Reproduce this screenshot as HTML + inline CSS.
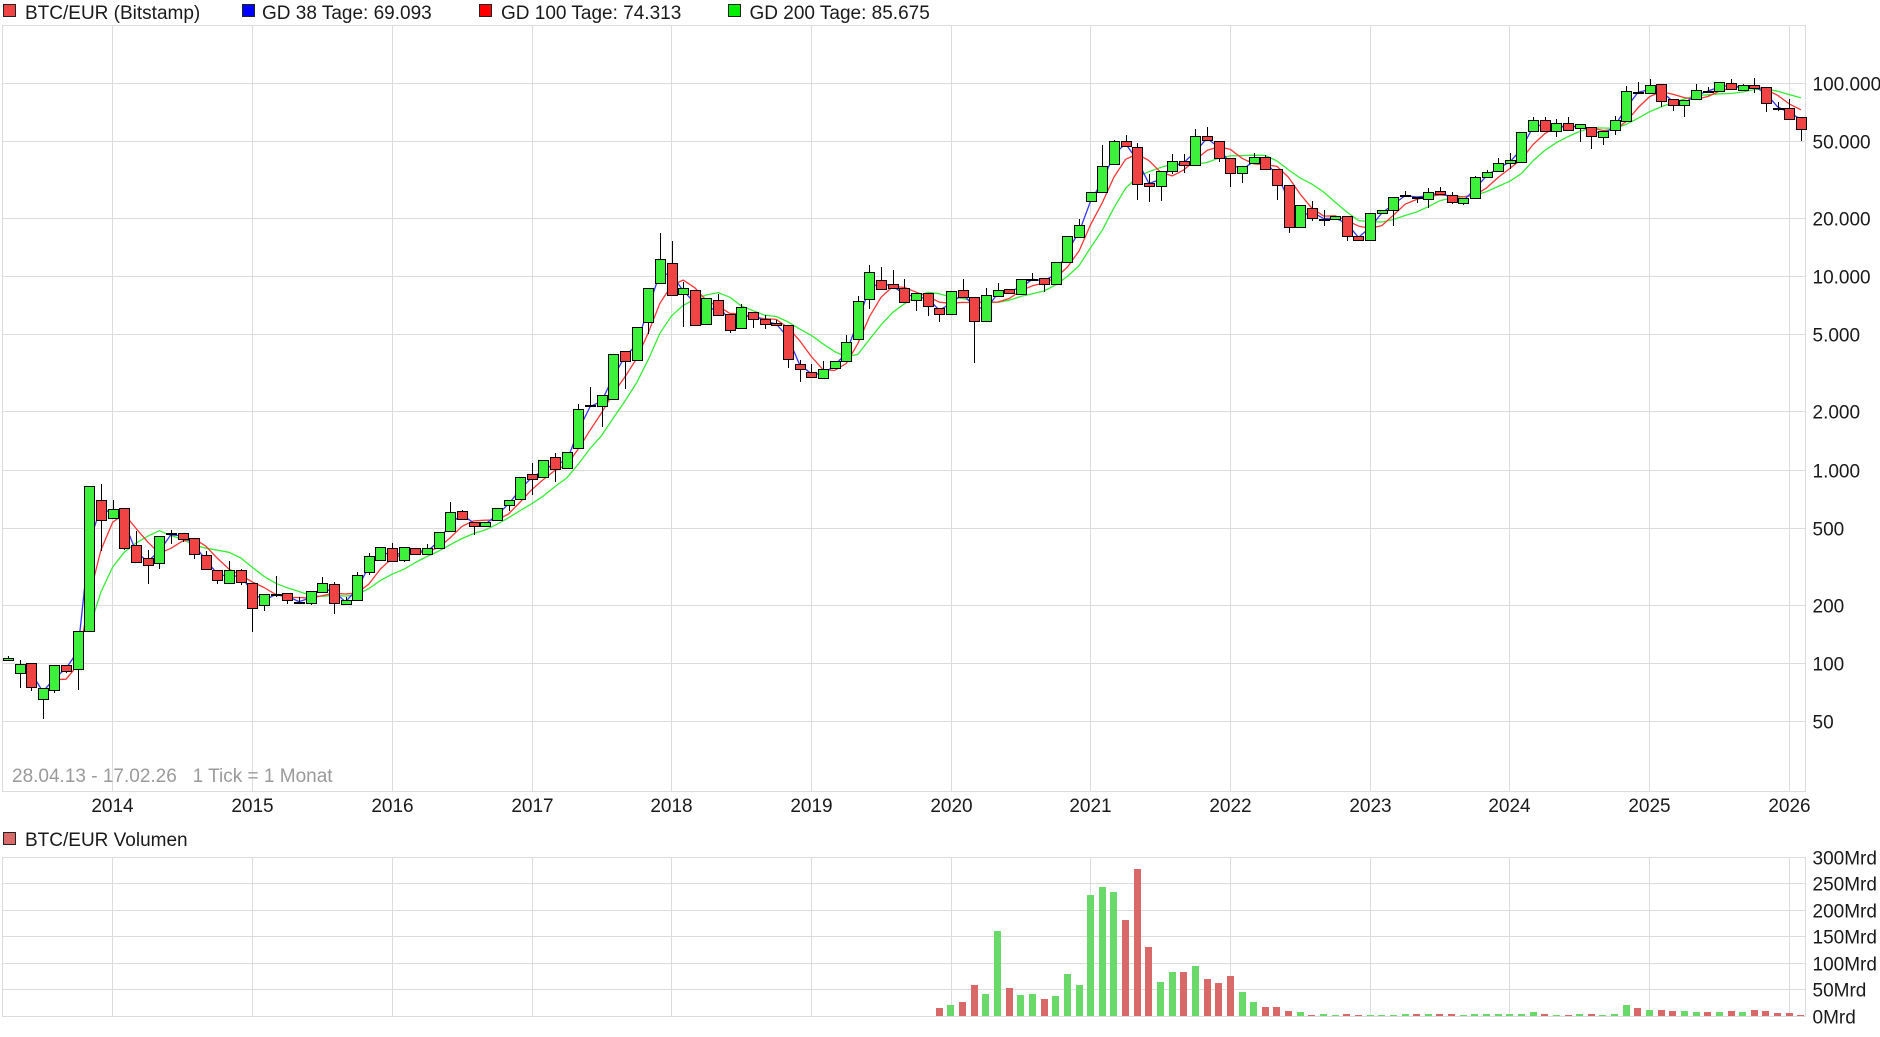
<!DOCTYPE html>
<html>
<head>
<meta charset="utf-8">
<style>
html,body{margin:0;padding:0;background:#fff;}
svg{display:block;}
text{font-family:"Liberation Sans",Arial,sans-serif;font-size:19px;fill:#1a1a1a;}
</style>
</head>
<body>
<svg id="c" xmlns="http://www.w3.org/2000/svg" width="1880" height="1037" viewBox="0 0 1880 1037">
<rect width="1880" height="1037" fill="#fff"/>
<g stroke="#dcdcdc" stroke-width="1" fill="none">
  <rect x="2.5" y="25.5" width="1803" height="766"/>
  <line x1="2" y1="83.5" x2="1806" y2="83.5"/>
  <line x1="2" y1="141.5" x2="1806" y2="141.5"/>
  <line x1="2" y1="218.5" x2="1806" y2="218.5"/>
  <line x1="2" y1="276.5" x2="1806" y2="276.5"/>
  <line x1="2" y1="334.5" x2="1806" y2="334.5"/>
  <line x1="2" y1="411.5" x2="1806" y2="411.5"/>
  <line x1="2" y1="470.5" x2="1806" y2="470.5"/>
  <line x1="2" y1="528.5" x2="1806" y2="528.5"/>
  <line x1="2" y1="605.5" x2="1806" y2="605.5"/>
  <line x1="2" y1="663.5" x2="1806" y2="663.5"/>
  <line x1="2" y1="721.5" x2="1806" y2="721.5"/>
  <g id="vgrid"></g>
  <rect x="2.5" y="857.5" width="1803" height="159"/>
  <line x1="2" y1="883.5" x2="1806" y2="883.5"/>
  <line x1="2" y1="910.5" x2="1806" y2="910.5"/>
  <line x1="2" y1="936.5" x2="1806" y2="936.5"/>
  <line x1="2" y1="963.5" x2="1806" y2="963.5"/>
  <line x1="2" y1="989.5" x2="1806" y2="989.5"/>
</g>

<!-- Legend -->
<rect x="3.5" y="4.5" width="12" height="12" fill="#ee4444" stroke="#222"/>
<text x="25" y="19">BTC/EUR (Bitstamp)</text>
<rect x="242.5" y="4.5" width="12" height="12" fill="#0000ff" stroke="#222"/>
<text x="262" y="19">GD 38 Tage: 69.093</text>
<rect x="479.5" y="4.5" width="12" height="12" fill="#ff0000" stroke="#222"/>
<text x="501" y="19">GD 100 Tage: 74.313</text>
<rect x="728.5" y="4.5" width="12" height="12" fill="#00ee00" stroke="#222"/>
<text x="749.5" y="19">GD 200 Tage: 85.675</text>

<!-- Right axis labels -->
<g>
<text x="1812.5" y="90.5">100.000</text>
<text x="1812.5" y="148.5">50.000</text>
<text x="1812.5" y="225.5">20.000</text>
<text x="1812.5" y="283.5">10.000</text>
<text x="1812.5" y="341.5">5.000</text>
<text x="1812.5" y="418.5">2.000</text>
<text x="1812.5" y="477.5">1.000</text>
<text x="1812.5" y="535.5">500</text>
<text x="1812.5" y="612.5">200</text>
<text x="1812.5" y="670.5">100</text>
<text x="1812.5" y="728.5">50</text>
</g>

<text x="12" y="782" style="fill:#9a9a9a">28.04.13 - 17.02.26 &#160; 1 Tick = 1 Monat</text>

<!-- Year labels -->
<g text-anchor="middle">
<text x="112.5" y="812">2014</text>
<text x="252.5" y="812">2015</text>
<text x="392.5" y="812">2016</text>
<text x="532.5" y="812">2017</text>
<text x="671.5" y="812">2018</text>
<text x="811.5" y="812">2019</text>
<text x="951.5" y="812">2020</text>
<text x="1090.5" y="812">2021</text>
<text x="1230.5" y="812">2022</text>
<text x="1370.5" y="812">2023</text>
<text x="1509.5" y="812">2024</text>
<text x="1649.5" y="812">2025</text>
<text x="1789.5" y="812">2026</text>
</g>

<rect x="3.5" y="832.5" width="12" height="12" fill="#d96a6a" stroke="#222"/>
<text x="25" y="846">BTC/EUR Volumen</text>

<g>
<text x="1812.5" y="864.5">300Mrd</text>
<text x="1812.5" y="890.5">250Mrd</text>
<text x="1812.5" y="917.5">200Mrd</text>
<text x="1812.5" y="943.5">150Mrd</text>
<text x="1812.5" y="970.5">100Mrd</text>
<text x="1812.5" y="996.5">50Mrd</text>
<text x="1812.5" y="1023.5">0Mrd</text>
</g>

<g id="ma"></g>
<g id="cand"></g>
<g id="vol"></g>
</svg>
<script>
(function(){
const NS='http://www.w3.org/2000/svg';
function el(n,a,p){const e=document.createElementNS(NS,n);for(const k in a)e.setAttribute(k,a[k]);p.appendChild(e);return e;}
const X=i=>7.9+11.643*i;
const Y=v=>83.5+193.3*(5-Math.log10(v));
const P=y=>Math.pow(10,5-(y-83.5)/193.3);
const D=[
[1,658.3,660.3,655.7,0],[1,664,673.3,660,687.7],[0,663.3,687.3,0,690.7],[1,688.3,699,0,719.3],[1,665.3,690,0,693.3],
[0,665.3,671.3,0,673.3],[1,631.3,669.3,0,689.7],[1,486.3,631.3,0,0],[0,500.3,520.3,484,550.7],[1,509.3,518.3,500,0],
[0,508.3,548.3,0,550],[0,545.3,562.3,531,0],[0,558.3,565.3,550,583.7],[1,536.3,563.3,0,569.3],[1,533.3,534.3,530,544],
[0,533.3,539.3,0,542],[0,538.3,554.3,0,559.3],[0,555.3,569.3,551,0],[0,570.3,580.3,0,583.7],[1,570.3,583.3,561,0],
[0,570.3,582.3,568.7,585.3],[0,583.3,608.3,0,631.7],[1,594.3,605.3,0,610.7],[0,593.7,594.7,576,596.7],[0,593.3,600,0,604.3],
[1,601.7,602.7,596.7,604.3],[1,591.3,603.3,0,605],[1,583.3,592.3,576.7,0],[0,584.3,603.3,582.3,613.7],[1,600,604.3,596.7,0],
[1,575.3,600.3,572.3,0],[1,556.3,572.3,552.7,575.3],[1,547.3,560,0,0],[0,547.7,561,543.3,0],[1,546.7,560,0,562],
[0,547.7,554.3,0,0],[1,548.3,554.3,544.3,0],[1,532.3,548.3,0,0],[1,512.3,531,502,0],[0,511,519,510,0],
[0,521.7,526,0,535],[1,521.7,526,0,0],[1,508.3,520,0,0],[1,500.3,505,0,510.7],[1,477.3,499.3,0,0],
[0,474.3,479.3,463.3,495],[1,460.3,477.3,0,0],[0,457.3,469.3,453.3,481.7],[1,452.3,468.3,0,0],[1,409.3,448.3,404.3,0],
[1,404.5,405.5,387,0],[1,395.3,406.3,0,426.7],[1,354.3,399,0,0],[0,351.3,361,0,389.3],[1,327.3,360.3,0,0],
[1,288.3,322.3,0,334.3],[1,259,283,233,0],[0,263.3,295.3,241,0],[1,288.3,294,282.3,326.7],[0,290.3,325,0,0],
[1,298.3,324.3,0,0],[0,299.7,315,294.3,0],[0,314.3,330.3,0,333],[1,306.7,328.3,304,0],[0,311.7,319.3,0,328.3],
[0,319.3,324.3,315,329.3],[0,322.7,325.3,319.7,0],[0,325.3,359.3,0,368.3],[0,364.3,369.3,360,382.3],[0,372.3,377.3,364.3,0],
[1,368.7,378.3,361,0],[1,361.3,368.3,0,369.3],[1,341.7,361.3,335,0],[1,301.3,339.3,296,0],[1,272.3,299,265,309.3],
[0,280,289.3,267.3,0],[0,284.3,288.3,270,0],[0,288.3,302.3,279.3,0],[1,293.3,300.3,0,310.7],[0,293.3,306,0,315.7],
[0,308.3,314.3,0,322.3],[1,291.3,314.3,0,0],[0,290.3,297.3,279,0],[0,297.3,321.3,0,362.7],[1,295.3,321.3,287.7,0],
[1,290.3,296.3,283,0],[0,289.3,293.3,0,0],[1,279.3,294.3,0,0],[1,278.5,279.5,273.3,0],[0,278.3,284.3,0,291.7],
[1,262.3,284.3,0,0],[1,236.3,262.3,0,0],[1,225.3,236.7,219.3,0],[1,191.7,200.7,0,0],[1,166,192.3,145,0],
[1,141.3,164.3,140,0],[0,141.3,146,134.7,0],[0,146.7,184.3,143.3,200],[0,183.3,186,174.3,201.7],[1,171,186.3,0,200.7],
[1,160.7,171,154,174.3],[0,160.7,165,154.3,172.7],[1,136,165,129.3,0],[0,136,140,126.7,0],[0,141.3,157.7,0,161.7],
[0,158.3,173,0,186.7],[1,166,173,0,182.7],[1,157.3,163.3,153.3,0],[0,157.3,168.7,155,0],[0,168.7,185,0,200],
[0,185.3,227.3,0,232.7],[1,205.3,227.3,0,0],[0,207.7,218.3,201,221],[1,218.5,219.5,210,226],[1,216.3,219.3,0,0],
[0,215.7,236.3,0,241.3],[0,235.7,240.3,0,0],[1,213.3,240.3,0,0],[1,210.3,213.3,0,0],[1,196.7,210.3,0,225.7],
[1,194.5,195.5,190.7,0],[0,197,198,0,203.3],[1,191.7,199.3,188,207.7],[0,190.7,194.3,187,0],[0,195.3,202.3,192.3,204.3],
[1,198.3,203.3,0,205],[1,177.3,198.3,176,0],[1,172.3,177.3,170,0],[1,163.3,171.3,158.3,0],[1,160.3,163.3,153.3,169.3],
[1,131.7,162.3,0,0],[1,119.7,131,117.3,0],[0,119.7,131,117.3,0],[1,123.3,131.3,119.3,136.7],[0,123.3,130.3,117.3,0],
[1,124.3,128.3,0,141.7],[0,127.3,136,0,148.7],[1,131.3,137.3,0,144.7],[1,120.3,130.3,116.3,135.3],[1,91.3,121.3,86,0],
[0,91.5,92.5,81.7,0],[1,85.3,92.7,79.3,0],[0,84.3,101.3,0,107],[0,98.7,105.3,0,110.7],[1,99.7,105.3,0,116.7],
[1,90.3,98.7,84.3,0],[0,90.5,91.5,86.7,0],[1,81.7,91,0,0],[0,82.7,89,79.3,0],[1,85.3,90.3,84,0],
[0,85.3,88,78,93.3],[0,87.3,103.3,0,111.7],[0,107.5,108.5,101.7,110.7],[0,108.3,119.3,98.7,0],[0,117.3,129.3,0,140.7]
];
const V=[1007.7,1005,1002,985,994,931,988,995,994,999,
996,974,985,895,887,892,920,869,947,982,
972,972,966,979,983,976,992,1002,1007,1007,
1011,1012,1015,1014,1015,1014,1015,1015,1015,1015,
1014,1014,1014,1014,1014,1015,1014,1014,1014,1014,
1014,1012,1014,1015,1015,1014,1014,1015,1014,1005,
1008,1010,1010,1010.7,1011,1012,1012.3,1012,1011,1012,
1010,1011,1013,1013,1015];

// vertical gridlines
const vg=document.getElementById('vgrid');
const yx=[112.5,252.5,392.5,532.5,671.5,811.5,951.5,1090.5,1230.5,1370.5,1509.5,1649.5,1789.5];
yx.forEach(x=>{
  el('line',{x1:x,y1:25,x2:x,y2:791},vg);
  el('line',{x1:x,y1:857,x2:x,y2:1016},vg);
});

// Moving averages (approximate daily path)
const ML=[31,28,31,30,31,30,31,31,30,31,30,31];
const days=[],ends=[];
D.forEach((d,i)=>{
  const o=P(d[0]?d[2]:d[1]), c=P(d[0]?d[1]:d[2]);
  const n=i==0?3:(i==D.length-1?17:ML[(3+i)%12]);
  for(let k=1;k<=n;k++)days.push(o+(c-o)*k/n);
  ends.push(days.length);
});
const gMA=document.getElementById('ma');
function ma(N,col){
  const pts=[];
  ends.forEach((e,i)=>{
    if(e>=N){let s=0;for(let k=e-N;k<e;k++)s+=days[k];
      pts.push(X(i).toFixed(1)+','+Y(s/N).toFixed(1));}
  });
  el('polyline',{points:pts.join(' '),fill:'none',stroke:col,'stroke-width':1.3,'stroke-linejoin':'round'},gMA);
}
ma(200,'#33ee33');
ma(100,'#ff3333');
ma(38,'#3333ff');

// Candles
const gC=document.getElementById('cand');
D.forEach((d,i)=>{
  const L=Math.round(X(i)-5)+0.5, cx=L+5;
  const t=Math.round(d[1]), b=Math.round(d[2]);
  const H=d[3]||d[1], Lo=d[4]||d[2];
  if(H<d[1]-0.8) el('line',{x1:cx,y1:Math.round(H),x2:cx,y2:t,stroke:'#000','stroke-width':1},gC);
  if(Lo>d[2]+0.8) el('line',{x1:cx,y1:b,x2:cx,y2:Math.round(Lo),stroke:'#000','stroke-width':1},gC);
  const h=Math.max(1,b-t);
  el('rect',{x:L,y:t+0.5,width:10,height:h,fill:d[0]?'#3cf03c':'#f04444',stroke:'#000','stroke-width':1},gC);
});

// Volume
const gV=document.getElementById('vol');
V.forEach((top,k)=>{
  const i=80+k;
  const x=Math.round(X(i)-3.5);
  const y=Math.round(top);
  el('rect',{x:x,y:y,width:7,height:Math.max(1,1016-y),fill:D[i][0]?'#69d969':'#d96969'},gV);
});
})();
</script>
</body>
</html>
